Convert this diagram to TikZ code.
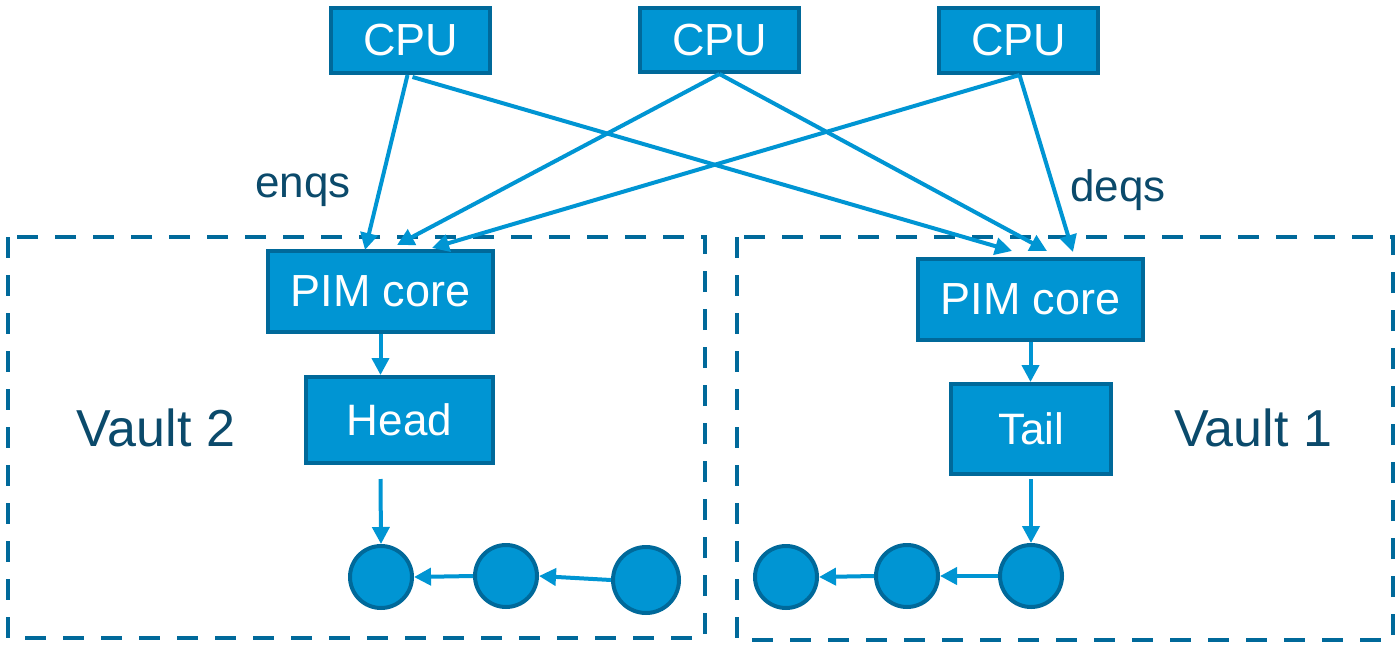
\documentclass[tikz,border=0pt]{standalone}
\usepackage{fontspec}
\setmainfont{Liberation Sans}
\usetikzlibrary{arrows.meta,calc}
\definecolor{boxfill}{HTML}{0095D3}
\definecolor{boxedge}{HTML}{00699A}
\definecolor{labeltxt}{HTML}{0B4A6B}
\tikzset{
  unit/.style={draw=boxedge, fill=boxfill, line width=4pt, text=white, inner sep=0pt,
               font=\fontsize{45}{50}\selectfont},
  qnode/.style={circle, draw=boxedge, fill=boxfill, line width=4pt, minimum size=62pt, inner sep=0pt},
  vault/.style={draw=boxedge, line width=4pt, dash pattern=on 21pt off 17pt},
  link/.style={draw=boxfill, line width=4pt, -{Triangle[length=17pt,width=17pt]}},
  lbl/.style={text=labeltxt, inner sep=0pt}
}
\begin{document}
\begin{tikzpicture}[x=1pt,y=-1pt]
  \useasboundingbox (0,0) rectangle (1399,645);
  % vault outlines
  \draw[vault] (8,237) rectangle (705,638);
  \draw[vault] (737,237) rectangle (1393,640);
  % processors
  \node[unit, minimum width=159pt, minimum height=65pt] (cpu1) at (410.5,40.5) {CPU};
  \node[unit, minimum width=159pt, minimum height=64pt] (cpu2) at (719.5,40) {CPU};
  \node[unit, minimum width=159pt, minimum height=65pt] (cpu3) at (1018.5,40.5) {CPU};
  % vault contents
  \node[unit, minimum width=225pt, minimum height=81pt] (pimL) at (380.5,291.5) {PIM core};
  \node[unit, minimum width=187pt, minimum height=86pt, font=\fontsize{44}{48}\selectfont] (head) at (399.5,420) {Head};
  \node[unit, minimum width=225pt, minimum height=81pt] (pimR) at (1030.5,299.5) {PIM core};
  \node[unit, minimum width=160pt, minimum height=90pt, font=\fontsize{44}{48}\selectfont] (tail) at (1031,429) {Tail};
  \node[qnode] (l1) at (381,577) {};
  \node[qnode] (l2) at (506,576) {};
  \node[qnode, minimum size=66pt] (l3) at (646,580) {};
  \node[qnode] (r1) at (786,577) {};
  \node[qnode] (r2) at (907,576) {};
  \node[qnode] (r3) at (1031,576) {};
  % labels
  \node[lbl, font=\fontsize{44}{48}\selectfont] (enq) at (303,190) {enqs};
  \node[lbl, font=\fontsize{44}{48}\selectfont] (deq) at (1118,190) {deqs};
  \node[lbl, font=\fontsize{52}{56}\selectfont] (v2) at (156,428) {Vault 2};
  \node[lbl, font=\fontsize{52}{56}\selectfont] (v1) at (1253,428) {Vault 1};
  % arrival points on the PIM cores
  \coordinate (pL1) at (365,250);
  \coordinate (pL2) at (397,245);
  \coordinate (pL3) at (432,248);
  \coordinate (pR1) at (1012,251);
  \coordinate (pR2) at (1047,251);
  \coordinate (pR3) at (1073,252);
  % CPU requests
  \draw[link] ($(cpu1.south)+(-3,0)$) -- (pL1);
  \draw[link] ($(cpu1.south)+(2,2)$) -- (pR1);
  \draw[link] (cpu2.south) -- (pL2);
  \draw[link] (cpu2.south) -- (pR2);
  \draw[link] ($(cpu3.south)+(1,0)$) -- (pL3);
  \draw[link] ($(cpu3.south)+(1,0)$) -- (pR3);
  % inside the vaults
  \draw[link] (pimL.south) -- (pimL.south |- head.north);
  \draw[link] ($(head.south)+(-19,14)$) -- (l1.north);
  \draw[link] (pimR.south) -- (pimR.south |- tail.north);
  \draw[link] ($(tail.south)+(0,3)$) -- (r3.north);
  \draw[link] (l3.west) -- (l2.east);
  \draw[link] (l2.west) -- (l1.east);
  \draw[link] (r3.west) -- (r2.east);
  \draw[link] (r2.west) -- (r1.east);
\end{tikzpicture}
\end{document}
